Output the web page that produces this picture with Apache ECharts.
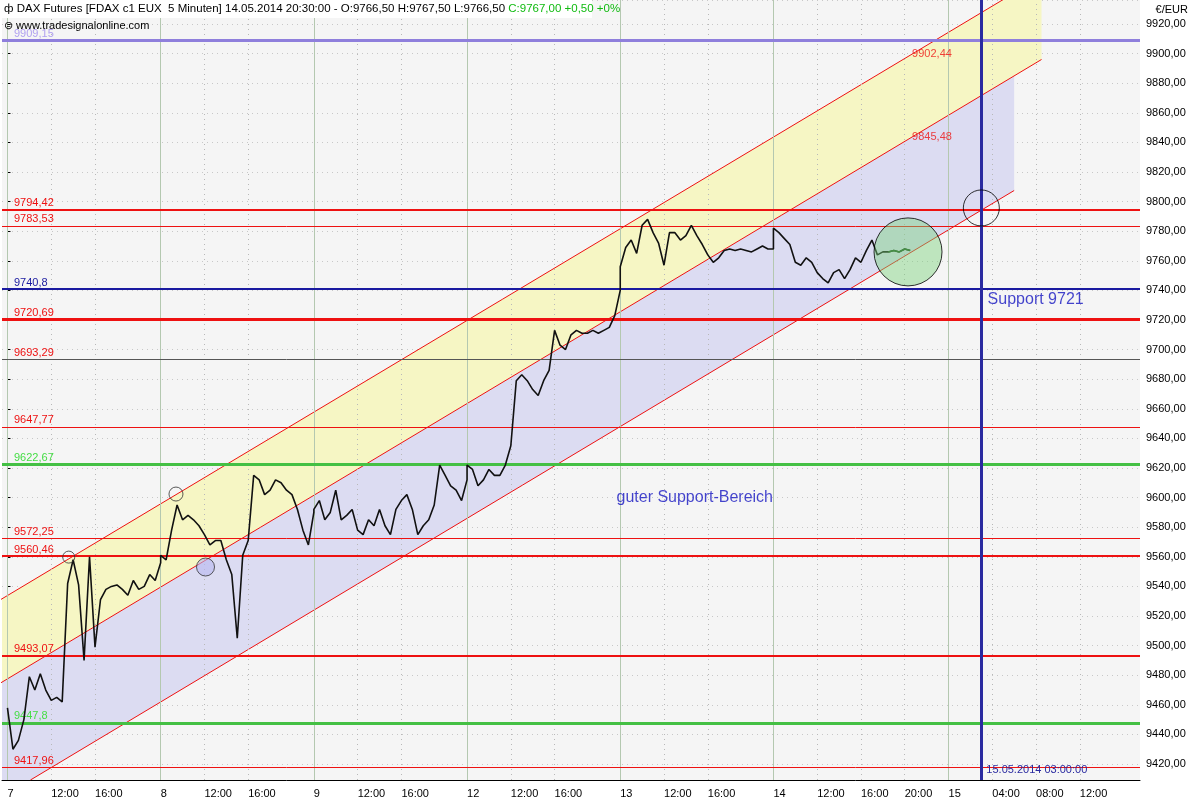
<!DOCTYPE html>
<html><head><meta charset="utf-8">
<script src="https://cdn.jsdelivr.net/npm/echarts@6/dist/echarts.min.js"></script>
<style>html,body{margin:0;padding:0;background:#fff}#c{width:1200px;height:800px}</style>
</head><body><div id="c"></div>
<script>
// half-hour closes per trading day, 08:00 onwards
const dayNames = ['7','8','9','12','13','14'];
const day7  = [9458,9430,9436,9450,9479,9470,9481,9470,9463,9465,9462,9542,9558,9541,9490,9560,9499,9531,9538,9540,9541,9538,9534,9544,9538,9540,9548,9544,9556];
const day8  = [9561,9558,9578,9595,9585,9588,9585,9581,9575,9568,9571,9571,9558,9548,9505,9561,9571,9615,9612,9602,9605,9612,9610,9605,9602,9592,9578,9568,9590];
const day9  = [9592,9598,9585,9590,9605,9585,9588,9592,9578,9575,9585,9581,9592,9581,9575,9592,9598,9602,9592,9575,9581,9585,9595,9622,9615,9608,9605,9598,9612];
const day12 = [9622,9619,9608,9612,9619,9615,9615,9622,9635,9679,9683,9679,9673,9669,9679,9686,9713,9703,9700,9710,9713,9711,9711,9713,9711,9713,9715,9723,9740];
const day13 = [9756,9769,9774,9765,9784,9788,9779,9772,9757,9779,9779,9774,9777,9784,9777,9771,9764,9759,9762,9767,9768,9767,9768,9767,9766,9768,9770,9768,9768];
const day14 = [9782,9779,9775,9771,9759,9757,9762,9759,9752,9748,9745,9752,9754,9748,9754,9762,9759,9767,9774,9764,9766,9766,9767,9766,9768,9767];
const days = [day7,day8,day9,day12,day13,day14];

// horizontal levels
const levels = [
  {v:9909.15, label:'9909,15', color:'#8f7fdc', w:3, lc:'#b0a0f0'},
  {v:9794.42, label:'9794,42', color:'#ee1111', w:2, lc:'#ee1111'},
  {v:9783.53, label:'9783,53', color:'#ee1111', w:1, lc:'#ee1111'},
  {v:9740.8,  label:'9740,8',  color:'#1a1aa0', w:2, lc:'#1a1aa0'},
  {v:9720.69, label:'9720,69', color:'#ee1111', w:3, lc:'#ee1111'},
  {v:9693.29, label:'9693,29', color:'#555555', w:1, lc:'#ee1111'},
  {v:9647.77, label:'9647,77', color:'#ee1111', w:1, lc:'#ee1111'},
  {v:9622.67, label:'9622,67', color:'#44c044', w:3, lc:'#44dd44'},
  {v:9572.25, label:'9572,25', color:'#ee1111', w:1, lc:'#ee1111'},
  {v:9560.46, label:'9560,46', color:'#ee1111', w:2, lc:'#ee1111'},
  {v:9493.07, label:'9493,07', color:'#ee1111', w:2, lc:'#ee1111'},
  {v:9447.8,  label:'9447,8',  color:'#44c044', w:3, lc:'#44dd44'},
  {v:9417.96, label:'9417,96', color:'#ee1111', w:1, lc:'#ee1111'}
];

// regression channel (time in trading hours, price)
const chanT   = [-0.64, 94.5];
const upper   = [9531, 9952];
const middle  = [9474.7, 9896];
const lowT    = [2.1, 92.0];
const lower   = [9409.2, 9807.5];

// x tick labels [tradingHour, text]
const xLabels = [[0,'7'],[4,'12:00'],[8,'16:00'],[14,'8'],[18,'12:00'],[22,'16:00'],[28,'9'],[32,'12:00'],[36,'16:00'],
  [42,'12'],[46,'12:00'],[50,'16:00'],[56,'13'],[60,'12:00'],[64,'16:00'],[70,'14'],[74,'12:00'],[78,'16:00'],[82,'20:00'],
  [86,'15'],[90,'04:00'],[94,'08:00'],[98,'12:00']];
const dayLines = [0,14,28,42,56,70,86];
const supportTime = 89;

const YMIN = 9409.2, YMAX = 9936.2, XMIN = -0.5, XMAX = 103.5;

const price = [];
days.forEach((d,i)=>d.forEach((v,k)=>price.push([i*14 + k*0.5, v])));
const lastPart = price.slice(price.length-5);

function lin(T,P,t){return P[0]+(P[1]-P[0])*(t-T[0])/(T[1]-T[0]);}
const tTop = chanT[0] + (YMAX-upper[0])*(chanT[1]-chanT[0])/(upper[1]-upper[0]);

const labelMap = {}; xLabels.forEach(([t,s])=>labelMap[t]=s);
const hourLines = xLabels.map(a=>a[0]).filter(t=>dayLines.indexOf(t)<0);

const chart = echarts.init(document.getElementById('c'));
chart.setOption({
  animation:false,
  backgroundColor:'#ffffff',
  textStyle:{fontFamily:'Liberation Sans, Arial, sans-serif'},
  grid:{left:2,right:60,top:0,bottom:20,show:true,backgroundColor:'#f5f5f5',borderColor:'#000',borderWidth:0},
  xAxis:{type:'value',min:XMIN,max:XMAX,interval:0.5,
    axisLine:{show:true,lineStyle:{color:'#000'}},axisTick:{show:false},splitLine:{show:false},
    axisLabel:{showMinLabel:false,showMaxLabel:false,color:'#000',fontSize:11,align:'left',margin:8,
      formatter:v=>labelMap[v]||''}},
  yAxis:{type:'value',position:'right',min:YMIN,max:YMAX,splitNumber:26,scale:true,
    axisLine:{show:true,lineStyle:{color:'#000'}},axisTick:{show:true,length:3,lineStyle:{color:'#000'}},
    splitLine:{show:true,lineStyle:{color:'#c8c8c8',type:[1,4]}},
    axisLabel:{showMinLabel:false,showMaxLabel:false,color:'#000',fontSize:11,margin:6,
      formatter:v=>v.toFixed(2).replace('.',',')}},
  graphic:[
    {type:'rect',shape:{x:0,y:0,width:592,height:18},style:{fill:'#fff'},z:100},
    {type:'text',left:4,top:3,z:101,style:{
      text:'{a|ф DAX Futures [FDAX c1 EUX  5 Minuten] 14.05.2014 20:30:00 - O:9766,50 H:9767,50 L:9766,50 }{g|C:9767,00 +0,50 +0%}',
      rich:{a:{fill:'#000',fontSize:11.5,fontFamily:'Liberation Sans'},g:{fill:'#11bb11',fontSize:11.5,fontFamily:'Liberation Sans'}}}},
    {type:'text',left:4,top:20,z:101,style:{text:'⊜ www.tradesignalonline.com',fill:'#000',font:'11px Liberation Sans'}},
    {type:'text',right:12,top:4,z:101,style:{text:'€/EUR',fill:'#000',font:'11px Liberation Sans'}}
  ],
  series:[
    {type:'custom',z:1,silent:true,data:[0],clip:true,
     renderItem:(params,api)=>{
       const m0=lin(chanT,middle,XMIN), u0=lin(chanT,upper,XMIN);
       const yellow=[[XMIN,u0],[tTop,YMAX],[chanT[1],YMAX],[chanT[1],middle[1]],[XMIN,m0]].map(p=>api.coord(p));
       const blue=[[XMIN,m0],[lowT[1],lin(chanT,middle,lowT[1])],[lowT[1],lower[1]],[lowT[0],YMIN],[XMIN,YMIN]].map(p=>api.coord(p));
       return {type:'group',children:[
         {type:'polygon',shape:{points:yellow},style:{fill:'#f6f6c4'}},
         {type:'polygon',shape:{points:blue},style:{fill:'#dcdcf2'}}]};
     }},
    {type:'line',z:2,silent:true,symbol:'none',data:[],
     markLine:{silent:true,symbol:'none',animation:false,
       data:[
         ...dayLines.map(t=>({xAxis:t,lineStyle:{color:'#b4c8b0',width:1,type:'solid'},label:{show:false}})),
         ...hourLines.map(t=>({xAxis:t,lineStyle:{color:'#b8b8b8',width:1,type:[1,4]},label:{show:false}}))
       ]}},
    {type:'line',z:3,silent:true,symbol:'none',data:[],
     markLine:{silent:true,symbol:'none',animation:false,
       data:levels.map(l=>({yAxis:l.v,lineStyle:{color:l.color,width:l.w,type:'solid'},
         label:{show:true,position:'insideStartTop',formatter:l.label,color:l.lc,fontSize:11,distance:[12,1]}}))}},
    {type:'line',z:4,silent:true,symbol:'none',data:chanT.map((t,i)=>[t,upper[i]]),lineStyle:{color:'#ee1111',width:1}},
    {type:'line',z:4,silent:true,symbol:'none',data:chanT.map((t,i)=>[t,middle[i]]),lineStyle:{color:'#ee1111',width:1}},
    {type:'line',z:4,silent:true,symbol:'none',data:lowT.map((t,i)=>[t,lower[i]]),lineStyle:{color:'#ee1111',width:1}},
    {type:'line',z:5,silent:true,symbol:'none',data:price,lineStyle:{color:'#111111',width:1.6}},
    {type:'line',z:6,silent:true,symbol:'none',data:lastPart,lineStyle:{color:'#1f5a1f',width:1.6}},
    {type:'line',z:7,silent:true,symbol:'none',data:[],
     markLine:{silent:true,symbol:'none',data:[{xAxis:supportTime,lineStyle:{color:'#2a2aa0',width:3,type:'solid'},
       label:{show:true,position:'insideStartTop',formatter:'15.05.2014 03:00:00',color:'#2a2aa0',fontSize:11,rotate:0,offset:[0,0]}}]}},
    {type:'scatter',z:8,silent:true,symbol:'circle',
     data:[
       {value:[82.3,9766],symbolSize:68,itemStyle:{color:'rgba(120,210,120,0.55)',borderColor:'#000',borderWidth:1}},
       {value:[89,9795.7],symbolSize:36,itemStyle:{color:'rgba(0,0,0,0)',borderColor:'#000',borderWidth:1}},
       {value:[15.4,9602.4],symbolSize:14,itemStyle:{color:'rgba(0,0,0,0)',borderColor:'#333',borderWidth:1}},
       {value:[5.6,9559.8],symbolSize:12,itemStyle:{color:'rgba(0,0,0,0)',borderColor:'#333',borderWidth:1}},
       {value:[18.1,9553.1],symbolSize:18,itemStyle:{color:'rgba(180,180,240,0.7)',borderColor:'#333',borderWidth:1}}
     ]},
    {type:'scatter',z:9,silent:true,symbolSize:0,
     data:[
       {value:[82.4,9900],label:{show:true,formatter:'9902,44',color:'#ee1111',fontSize:11,position:'right',offset:[-2,0]}},
       {value:[82.4,9843.5],label:{show:true,formatter:'9845,48',color:'#ee1111',fontSize:11,position:'right',offset:[-2,0]}},
       {value:[89.3,9734],label:{show:true,formatter:'Support 9721',color:'#1515c0',fontSize:16,position:'right',offset:[-2,0]}},
       {value:[55.2,9600],label:{show:true,formatter:'guter Support-Bereich',color:'#1515c0',fontSize:16,position:'right',offset:[0,0]}}
     ]}
  ]
});
</script></body></html>
